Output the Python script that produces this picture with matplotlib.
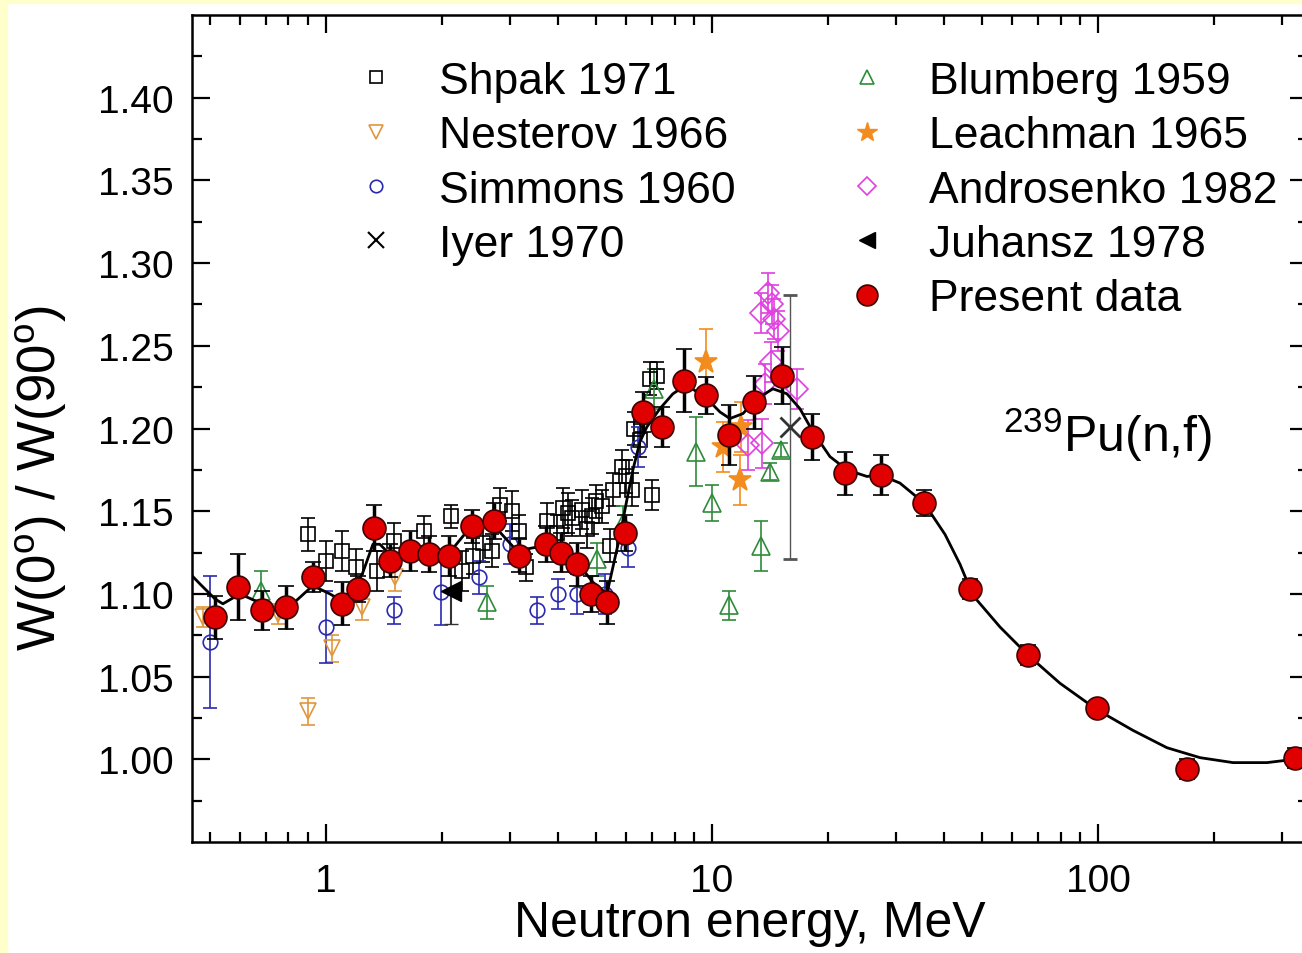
import matplotlib
matplotlib.use("Agg")
import matplotlib.pyplot as plt
from matplotlib.lines import Line2D
from matplotlib.patches import Rectangle
from matplotlib.ticker import FixedLocator, LogLocator, NullFormatter

plt.rcParams['font.family'] = ['Liberation Sans', 'DejaVu Sans']
plt.rcParams['mathtext.fontset'] = 'custom'
plt.rcParams['mathtext.rm'] = 'Liberation Sans'

# Present data: energy (MeV), anisotropy W(0)/W(90), error
present_E = [0.516, 0.592, 0.683, 0.788, 0.925, 1.10, 1.21, 1.33, 1.47, 1.65,
             1.85, 2.08, 2.39, 2.72, 3.16, 3.71, 4.06, 4.47, 4.86, 5.35,
             5.95, 6.63, 7.42, 8.46, 9.64, 11.06, 12.85, 15.2, 18.2, 22.1,
             27.4, 35.4, 46.6, 65.9, 99.4, 170, 324]
present_W = [1.086, 1.104, 1.090, 1.092, 1.110, 1.094, 1.103, 1.140, 1.120, 1.126,
             1.124, 1.123, 1.141, 1.144, 1.123, 1.130, 1.125, 1.118, 1.100, 1.095,
             1.137, 1.210, 1.201, 1.229, 1.220, 1.196, 1.216, 1.232, 1.195, 1.173,
             1.172, 1.155, 1.103, 1.063, 1.031, 0.994, 1.001]
present_dW = [0.013, 0.020, 0.012, 0.013, 0.009, 0.013, 0.008, 0.014, 0.010, 0.012,
              0.011, 0.012, 0.010, 0.011, 0.010, 0.011, 0.012, 0.013, 0.011, 0.013,
              0.011, 0.012, 0.012, 0.019, 0.011, 0.018, 0.016, 0.017, 0.014, 0.013,
              0.012, 0.008, 0.006, 0.006, 0.004, 0.006, 0.006]

# Smooth fit curve through the present data
curve_E = [0.450, 0.472, 0.516, 0.541, 0.599, 0.683, 0.746, 0.821, 0.925, 1.024,
           1.107, 1.175, 1.247, 1.324, 1.380, 1.491, 1.680, 2.058, 2.361, 2.660,
           3.125, 3.650, 4.111, 4.550, 4.918, 5.345, 5.776, 6.023, 6.242, 6.510,
           6.787, 7.334, 7.925, 8.412, 8.770, 9.705, 10.49, 11.13, 12.03, 13.08,
           14.39, 15.64, 16.90, 18.27, 20.22, 22.38, 25.21, 27.24, 30.69, 35.42,
           40.15, 43.90, 47.47, 55.74, 65.88, 79.7, 99.4, 123.2, 150.9, 183.8,
           223.7, 274.1, 350.0]
curve_W = [1.111, 1.106, 1.097, 1.094, 1.100, 1.094, 1.090, 1.094, 1.105, 1.100,
           1.0955, 1.100, 1.113, 1.130, 1.130, 1.122, 1.123, 1.123, 1.140, 1.144,
           1.126, 1.129, 1.125, 1.117, 1.107, 1.100, 1.135, 1.157, 1.175, 1.192,
           1.201, 1.212, 1.221, 1.225, 1.225, 1.218, 1.210, 1.206, 1.209, 1.218,
           1.224, 1.221, 1.212, 1.198, 1.183, 1.175, 1.171, 1.172, 1.167, 1.155,
           1.136, 1.118, 1.099, 1.080, 1.063, 1.046, 1.030, 1.0175, 1.007, 1.001,
           0.998, 0.998, 1.001]

shpak_E = [0.90, 1.00, 1.10, 1.20, 1.36, 1.50, 1.80, 2.11, 2.25, 2.40,
           2.55, 2.70, 2.82, 3.03, 3.16, 3.30, 3.74, 3.96, 4.11, 4.23,
           4.33, 4.60, 4.74, 4.88, 5.00, 5.20, 5.44, 5.55, 5.85, 6.00,
           6.20, 6.30, 6.50, 6.90, 7.00, 7.20]
shpak_W = [1.136, 1.120, 1.126, 1.116, 1.114, 1.132, 1.138, 1.147, 1.114, 1.123,
           1.131, 1.126, 1.154, 1.150, 1.138, 1.116, 1.144, 1.137, 1.152, 1.149,
           1.146, 1.151, 1.139, 1.147, 1.156, 1.153, 1.129, 1.163, 1.177, 1.171,
           1.163, 1.200, 1.193, 1.230, 1.160, 1.232]
shpak_dW = [0.010, 0.012, 0.012, 0.011, 0.012, 0.011, 0.009, 0.007, 0.012, 0.011,
            0.012, 0.010, 0.010, 0.012, 0.010, 0.008, 0.011, 0.011, 0.012, 0.012,
            0.011, 0.012, 0.011, 0.011, 0.010, 0.010, 0.010, 0.010, 0.010, 0.010,
            0.010, 0.010, 0.010, 0.010, 0.009, 0.008]

nesterov_E = [0.48, 0.75, 0.90, 1.04, 1.24, 1.51]
nesterov_W = [1.086, 1.088, 1.029, 1.067, 1.092, 1.110]
nesterov_dW = [0.006, 0.006, 0.008, 0.008, 0.008, 0.008]

simmons_E = [0.50, 1.00, 1.50, 1.99, 2.50, 3.00, 3.52, 4.00, 4.47, 5.30, 6.05, 6.45]
simmons_W = [1.071, 1.080, 1.090, 1.101, 1.110, 1.130, 1.090, 1.100, 1.100, 1.100, 1.128, 1.189]
simmons_dW = [0.040, 0.022, 0.008, 0.020, 0.010, 0.012, 0.008, 0.009, 0.012, 0.012, 0.012, 0.012]

iyer_E = [15.9]
iyer_W = [1.201]
iyer_dW = [0.080]

blumberg_E = [0.68, 2.61, 5.05, 5.88, 7.1, 9.1, 10.0, 11.1, 13.4, 14.1, 15.1]
blumberg_W = [1.102, 1.095, 1.121, 1.143, 1.224, 1.186, 1.155, 1.093, 1.129, 1.174, 1.187]
blumberg_dW = [0.012, 0.010, 0.010, 0.010, 0.012, 0.021, 0.011, 0.009, 0.015, 0.005, 0.004]

leachman_E = [9.64, 10.7, 11.9, 11.8]
leachman_W = [1.240, 1.189, 1.201, 1.169]
leachman_dW = [0.020, 0.015, 0.015, 0.015]

androsenko_E = [12.4, 13.5, 13.7, 13.4, 14.0, 14.3, 14.5, 14.8, 14.2, 16.6]
androsenko_W = [1.190, 1.191, 1.227, 1.270, 1.282, 1.275, 1.266, 1.259, 1.240, 1.224]
androsenko_dW = [0.015, 0.015, 0.012, 0.012, 0.012, 0.012, 0.012, 0.012, 0.012, 0.012]

juhansz_E = [2.11]
juhansz_W = [1.102]
juhansz_dW = [0.020]

fig = plt.figure(figsize=(13.02, 9.54), dpi=100)
fig.patch.set_facecolor('white')
# pale yellow frame strips on the left and top edges
fig.patches.append(Rectangle((0, 0), 7 / 1302, 1, transform=fig.transFigure,
                             color='#FFFFCC', zorder=-10))
fig.patches.append(Rectangle((0, 1 - 4 / 954), 1, 4 / 954, transform=fig.transFigure,
                             color='#FFFFCC', zorder=-10))

ax = fig.add_axes([192 / 1302, 111 / 954, 1116 / 1302, 827 / 954])


def open_set(E, W, dW, color, marker, ms, lw=1.2, mfc='none', z=3):
    ax.errorbar(E, W, yerr=dW, linestyle='none', marker=marker, ms=ms,
                mfc=mfc, mec=color, mew=lw, ecolor=color, elinewidth=lw,
                capsize=5, capthick=lw, zorder=z)


open_set(shpak_E, shpak_W, shpak_dW, 'black', 's', 10.5)
open_set(nesterov_E, nesterov_W, nesterov_dW, '#E0963C', 'v', 12)
open_set(simmons_E, simmons_W, simmons_dW, '#2A2AB0', 'o', 10.5)
open_set(blumberg_E, blumberg_W, blumberg_dW, '#2E8B3A', '^', 13)
open_set(leachman_E, leachman_W, leachman_dW, '#F28C1E', '*', 17, mfc='#F28C1E')
open_set(androsenko_E, androsenko_W, androsenko_dW, '#E040E0', 'D', 11)
ax.errorbar(iyer_E, iyer_W, yerr=iyer_dW, linestyle='none', marker='x', ms=15,
            mec='#333333', mew=2, ecolor='#555555', elinewidth=1, capsize=5, zorder=3)
ax.errorbar(juhansz_E, juhansz_W, yerr=juhansz_dW, linestyle='none', marker='<', ms=14,
            mfc='black', mec='black', ecolor='#333333', elinewidth=1.5, capsize=5, zorder=3)

# fit curve and present measurement
ax.plot(curve_E, curve_W, color='black', lw=2, zorder=4)
ax.errorbar(present_E, present_W, yerr=present_dW, linestyle='none', marker='o', ms=16.5,
            mfc='#E00000', mec='#400000', mew=1.2, ecolor='black', elinewidth=2.5,
            capsize=5.5, capthick=2, zorder=5)

ax.set_xscale('log')
ax.set_xlim(0.45, 350)
ax.set_ylim(0.95, 1.45)
ax.xaxis.set_major_locator(FixedLocator([1, 10, 100]))
ax.set_xticklabels(['1', '10', '100'])
ax.xaxis.set_minor_locator(LogLocator(base=10, subs=range(2, 10)))
ax.xaxis.set_minor_formatter(NullFormatter())
ax.set_yticks([1.00, 1.05, 1.10, 1.15, 1.20, 1.25, 1.30, 1.35, 1.40])
ax.set_yticklabels(['%.2f' % v for v in ax.get_yticks()])
ax.yaxis.set_minor_locator(FixedLocator([0.975 + 0.05 * i for i in range(10)]))

ax.tick_params(which='both', direction='in', top=True, right=True, width=1.6,
               labelsize=28, pad=13)
ax.tick_params(axis='x', pad=15)
ax.tick_params(which='major', length=13)
ax.tick_params(which='minor', length=7)
for s in ax.spines.values():
    s.set_linewidth(1.8)

ax.set_xlabel('Neutron energy, MeV', fontsize=36)
ax.xaxis.set_label_coords(0.5, -0.070)
ax.set_ylabel(r'W(0$^\mathregular{o}$) / W(90$^\mathregular{o}$)', fontsize=38)
ax.yaxis.set_label_coords(-0.110, 0.441)

ax.text(0.727, 0.473, r'$\mathregular{^{239}}$Pu(n,f)', transform=ax.transAxes,
        fontsize=36, ha='left', va='baseline')

# legend: four entries in the first column, five in the second
blank = Rectangle((0, 0), 1, 1, visible=False)
handles = [
    Line2D([], [], ls='none', marker='s', ms=8, mfc='none', mec='black', mew=1.2),
    Line2D([], [], ls='none', marker='v', ms=10, mfc='none', mec='#E0963C', mew=1.2),
    Line2D([], [], ls='none', marker='o', ms=9, mfc='none', mec='#2A2AB0', mew=1.2),
    Line2D([], [], ls='none', marker='x', ms=11, mec='black', mew=1.5),
    blank,
    Line2D([], [], ls='none', marker='^', ms=10, mfc='none', mec='#2E8B3A', mew=1.2),
    Line2D([], [], ls='none', marker='*', ms=15, mfc='#F28C1E', mec='#F28C1E'),
    Line2D([], [], ls='none', marker='D', ms=9, mfc='none', mec='#E040E0', mew=1.2),
    Line2D([], [], ls='none', marker='<', ms=12, mfc='black', mec='black'),
    Line2D([], [], ls='none', marker='o', ms=15, mfc='#E00000', mec='#400000', mew=1.2),
]
labels = ['Shpak 1971', 'Nesterov 1966', 'Simmons 1960', 'Iyer 1970', '',
          'Blumberg 1959', 'Leachman 1965', 'Androsenko 1982', 'Juhansz 1978',
          'Present data']
ax.legend(handles, labels, ncol=2, loc='upper left', bbox_to_anchor=(0.1174, 0.982),
          frameon=False, fontsize=32, handlelength=1.0, handletextpad=0.9,
          columnspacing=2.47, labelspacing=0.3, borderaxespad=0.3)

fig.savefig('out.png', dpi=100)
